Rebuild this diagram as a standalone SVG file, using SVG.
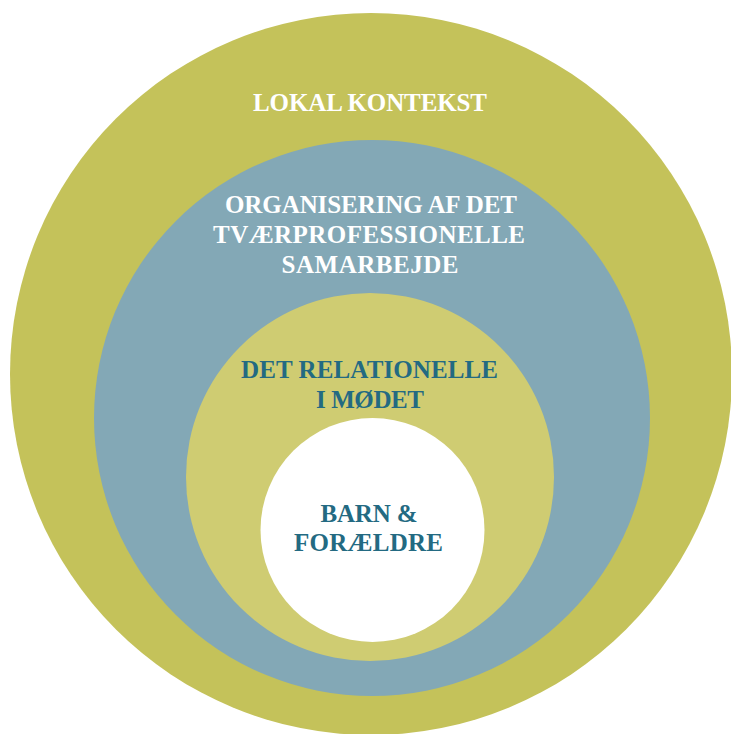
<svg xmlns="http://www.w3.org/2000/svg" width="731" height="734" viewBox="0 0 731 734">
<style>
.t{font-family:"Liberation Serif","DejaVu Serif",serif;font-weight:bold;text-anchor:middle;font-size:25px}
.w{fill:#ffffff}
.d{fill:#236a82}
</style>
<rect width="731" height="734" fill="#ffffff"/>
<g id="lokal">
<circle cx="371" cy="374" r="361" fill="#c4c25a"/>
<text class="t w" x="370" y="111" textLength="234" lengthAdjust="spacing">LOKAL KONTEKST</text>
</g>
<g id="organisering">
<circle cx="372" cy="418" r="278" fill="#83a8b6"/>
<text class="t w" x="371" y="213" textLength="292" lengthAdjust="spacing">ORGANISERING AF DET</text>
<text class="t w" x="369" y="243" textLength="312" lengthAdjust="spacing">TVÆRPROFESSIONELLE</text>
<text class="t w" x="370" y="273" textLength="177" lengthAdjust="spacing">SAMARBEJDE</text>
</g>
<g id="relationelle">
<circle cx="370" cy="477" r="184" fill="#cfcc72"/>
<text class="t d" x="369.5" y="378" textLength="257" lengthAdjust="spacing">DET RELATIONELLE</text>
<text class="t d" x="370" y="408" textLength="108" lengthAdjust="spacing">I MØDET</text>
</g>
<g id="barn">
<circle cx="372.5" cy="530" r="112" fill="#ffffff"/>
<text class="t d" x="369" y="522" textLength="97" lengthAdjust="spacing">BARN &amp;</text>
<text class="t d" x="368.5" y="551" textLength="149" lengthAdjust="spacing">FORÆLDRE</text>
</g>
<g id="connectors"/>
</svg>
